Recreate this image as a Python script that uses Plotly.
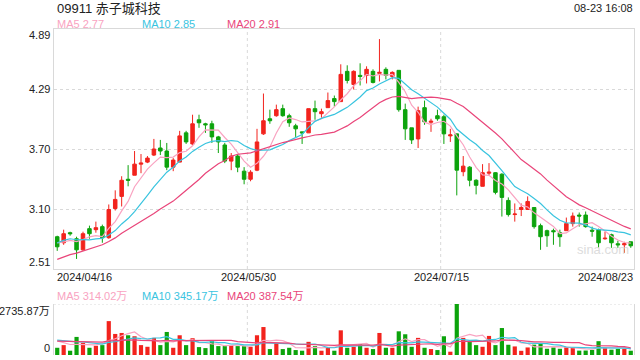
import plotly.graph_objects as go
import pandas as pd

# ---------------- data ----------------
dates = [
    "2024-04-16", "2024-04-17", "2024-04-18", "2024-04-19", "2024-04-22", "2024-04-23", "2024-04-24",
    "2024-04-25", "2024-04-26", "2024-04-29", "2024-04-30",
    "2024-05-02", "2024-05-03", "2024-05-06", "2024-05-07", "2024-05-08", "2024-05-09", "2024-05-10",
    "2024-05-13", "2024-05-14", "2024-05-16", "2024-05-17", "2024-05-20", "2024-05-21", "2024-05-22",
    "2024-05-23", "2024-05-24", "2024-05-27", "2024-05-28", "2024-05-29", "2024-05-30", "2024-05-31",
    "2024-06-03", "2024-06-04", "2024-06-05", "2024-06-06", "2024-06-07", "2024-06-11", "2024-06-12",
    "2024-06-13", "2024-06-14", "2024-06-17", "2024-06-18", "2024-06-19", "2024-06-20", "2024-06-21",
    "2024-06-24", "2024-06-25", "2024-06-26", "2024-06-27", "2024-06-28",
    "2024-07-02", "2024-07-03", "2024-07-04", "2024-07-05", "2024-07-08", "2024-07-09", "2024-07-10",
    "2024-07-11", "2024-07-12", "2024-07-15", "2024-07-16", "2024-07-17", "2024-07-18", "2024-07-19",
    "2024-07-22", "2024-07-23", "2024-07-24", "2024-07-25", "2024-07-26", "2024-07-29", "2024-07-30",
    "2024-07-31",
    "2024-08-01", "2024-08-02", "2024-08-05", "2024-08-06", "2024-08-07", "2024-08-08", "2024-08-09",
    "2024-08-12", "2024-08-13", "2024-08-14", "2024-08-15", "2024-08-16", "2024-08-19", "2024-08-20",
    "2024-08-21", "2024-08-22", "2024-08-23",
]

opens = [2.83, 2.77, 2.87, 2.81, 2.70, 2.91, 2.90, 2.93, 2.82, 3.11,
         3.23, 3.40, 3.44, 3.55, 3.57, 3.64, 3.71, 3.68, 3.52, 3.57,
         3.86, 3.75, 3.99, 3.95, 3.95, 3.82, 3.74, 3.58, 3.63, 3.48,
         3.40, 3.49, 3.85, 4.00, 4.03, 4.10, 4.03, 3.93, 3.87, 3.86,
         4.10, 4.05, 4.11, 4.20, 4.17, 4.47, 4.34, 4.43, 4.43, 4.47,
         4.45, 4.49, 4.42, 4.48, 4.09, 3.91, 3.80, 4.11, 3.965, 4.03,
         4.02, 3.83, 3.85, 3.475, 3.52, 3.39, 3.33, 3.46, 3.465, 3.45,
         3.19, 3.05, 3.10, 3.10, 3.12, 2.94, 2.89, 2.89, 2.87, 2.89,
         2.96, 3.045, 3.045, 2.895, 2.90, 2.81, 2.85, 2.76, 2.75, 2.78]
highs = [2.84, 2.90, 2.88, 2.83, 2.88, 2.94, 2.98, 2.95, 3.15, 3.29,
         3.43, 3.54, 3.68, 3.65, 3.63, 3.80, 3.79, 3.76, 3.61, 3.88,
         3.88, 4.04, 4.04, 3.96, 3.98, 3.83, 3.76, 3.66, 3.65, 3.52,
         3.49, 3.90, 4.25, 4.09, 4.14, 4.14, 4.05, 3.95, 3.87, 4.10,
         4.18, 4.10, 4.26, 4.23, 4.54, 4.53, 4.48, 4.55, 4.52, 4.49,
         4.79, 4.51, 4.47, 4.48, 4.15, 3.91, 4.12, 4.18, 4.00, 4.09,
         4.04, 3.90, 3.85, 3.63, 3.53, 3.40, 3.55, 3.56, 3.47, 3.46,
         3.22, 3.16, 3.16, 3.23, 3.12, 2.96, 2.90, 2.91, 2.90, 3.02,
         3.07, 3.07, 3.08, 2.93, 2.91, 2.88, 2.86, 2.79, 2.78, 2.78]
lows = [2.69, 2.75, 2.84, 2.61, 2.69, 2.81, 2.87, 2.77, 2.81, 3.09,
        3.13, 3.33, 3.44, 3.46, 3.56, 3.63, 3.64, 3.49, 3.48, 3.57,
        3.75, 3.74, 3.91, 3.86, 3.76, 3.66, 3.56, 3.49, 3.47, 3.35,
        3.38, 3.48, 3.84, 3.95, 4.02, 4.02, 3.92, 3.82, 3.75, 3.86,
        3.99, 4.01, 4.11, 4.12, 4.17, 4.35, 4.29, 4.33, 4.35, 4.35,
        4.37, 4.39, 4.39, 4.07, 3.79, 3.75, 3.71, 3.94, 3.87, 3.98,
        3.75, 3.77, 3.24, 3.43, 3.33, 3.25, 3.33, 3.44, 3.25, 3.03,
        3.03, 2.98, 3.035, 3.10, 2.91, 2.70, 2.73, 2.75, 2.73, 2.89,
        2.93, 2.93, 2.92, 2.83, 2.72, 2.80, 2.72, 2.72, 2.67, 2.72]
closes = [2.73, 2.86, 2.86, 2.70, 2.86, 2.86, 2.92, 2.82, 3.10, 3.20,
          3.39, 3.39, 3.55, 3.56, 3.61, 3.70, 3.68, 3.52, 3.59, 3.83,
          3.77, 3.95, 3.96, 3.94, 3.82, 3.77, 3.58, 3.63, 3.52, 3.40,
          3.47, 3.77, 3.98, 3.98, 4.09, 4.03, 3.96, 3.90, 3.86, 4.10,
          4.07, 4.07, 4.18, 4.17, 4.44, 4.38, 4.47, 4.42, 4.49, 4.36,
          4.46, 4.43, 4.46, 4.09, 3.90, 3.79, 4.08, 3.97, 3.975, 4.00,
          3.85, 3.84, 3.49, 3.53, 3.39, 3.34, 3.465, 3.47, 3.27, 3.22,
          3.05, 3.055, 3.12, 3.18, 2.93, 2.83, 2.84, 2.88, 2.83, 2.96,
          3.035, 3.035, 2.93, 2.885, 2.77, 2.815, 2.77, 2.75, 2.76, 2.74]
# volume, unit: 万 shares
volumes = [388, 530, 230, 970, 653, 388, 494, 530, 1818, 1130,
           1183, 1059, 1006, 530, 441, 918, 530, 1236, 388, 1059,
           530, 900, 424, 371, 741, 477, 477, 530, 477, 477,
           441, 1059, 1500, 318, 653, 318, 388, 265, 230, 706,
           477, 230, 388, 230, 1324, 388, 441, 582, 388, 318,
           1183, 388, 388, 1271, 1112, 441, 918, 388, 318, 265,
           1006, 177, 2735.87, 918, 706, 530, 441, 1024, 530, 1447,
           550, 460, 225, 405, 555, 610, 335, 405, 335, 419.1,
           395, 235, 240, 270, 741.6, 395, 285, 325, 335, 230.1]

# sessions before 2024-04-16 (only used to warm up the moving averages)
prior_closes = [2.40, 2.38, 2.42, 2.45, 2.43, 2.46, 2.44, 2.47, 2.48, 2.49,
                2.62, 2.70, 2.80, 2.85, 2.88, 2.82, 2.78, 2.76, 2.76]
prior_volumes = [600, 720, 540, 680, 810, 650, 700, 590, 860, 700,
                 900, 760, 1020, 680, 790, 980, 760, 920, 752]

date_labels = ["2024/04/16", "2024/05/30", "2024/07/15", "2024/08/23"]
price_ticks = [2.51, 3.10, 3.70, 4.29, 4.89]
vol_max = 2735.87

# ---------------- derived ----------------
n_prior = len(prior_closes)
cs = pd.Series(prior_closes + closes)
vs = pd.Series(prior_volumes + volumes)
ma = {w: cs.rolling(w).mean().iloc[n_prior:].tolist() for w in (5, 10, 20)}
vma = {w: vs.rolling(w).mean().iloc[n_prior:].tolist() for w in (5, 10, 20)}

RED = "#f2231d"
GREEN = "#0ca30c"
C5, C10, C20 = "#f9a3c1", "#39c4df", "#e9457a"
GRID = "#d9d9d9"
FONT = "Liberation Sans, Arial, Noto Sans CJK SC, sans-serif"

x = list(range(len(dates)))
vol_colors = [RED if c >= o else GREEN for o, c in zip(opens, closes)]

fig = go.Figure()
fig.add_trace(go.Candlestick(
    x=x, open=opens, high=highs, low=lows, close=closes, text=dates,
    increasing=dict(line=dict(color=RED, width=1), fillcolor=RED),
    decreasing=dict(line=dict(color=GREEN, width=1), fillcolor=GREEN),
    whiskerwidth=0, xaxis="x", yaxis="y", name="K"))
for w, col in ((5, C5), (10, C10), (20, C20)):
    fig.add_trace(go.Scatter(x=x, y=ma[w], mode="lines", line=dict(color=col, width=1.2),
                             xaxis="x", yaxis="y", name=f"MA{w}"))
fig.add_trace(go.Bar(x=x, y=volumes, marker=dict(color=vol_colors, line=dict(width=0)),
                     xaxis="x2", yaxis="y2", name="VOL"))
for w, col in ((5, C5), (10, C10), (20, C20)):
    fig.add_trace(go.Scatter(x=x, y=vma[w], mode="lines", line=dict(color=col, width=1.2),
                             xaxis="x2", yaxis="y2", name=f"VMA{w}"))

L, R = 54, 634
PT, PB = 29, 269
VT, VB = 304, 355
W, H = 640, 360


def px(xp):
    return xp / W


def py(yp):
    return 1 - yp / H


xr = [-0.5, len(dates) - 0.5]
fig.update_layout(
    width=W, height=H, margin=dict(l=0, r=0, t=0, b=0),
    paper_bgcolor="white", plot_bgcolor="white", showlegend=False,
    bargap=0.35, boxgap=0.22,
    font=dict(family=FONT, size=11, color="#333333"),
    xaxis=dict(domain=[px(L), px(R)], range=xr, anchor="y", showgrid=False, showticklabels=False,
               showline=True, mirror=True, linecolor=GRID, zeroline=False, ticks="",
               rangeslider=dict(visible=False)),
    yaxis=dict(domain=[py(PB), py(PT)], range=[2.51, 4.89], anchor="x",
               tickvals=[2.51 + 0.595 * k for k in (1, 2, 3)], showticklabels=False,
               showgrid=True, gridcolor=GRID, griddash="3px,3px", gridwidth=1,
               showline=True, mirror=True, linecolor=GRID, zeroline=False, ticks=""),
    xaxis2=dict(domain=[px(L), px(R)], range=xr, anchor="y2", showgrid=False, showticklabels=False,
                showline=False, zeroline=False, ticks=""),
    yaxis2=dict(domain=[py(VB), py(VT)], range=[0, vol_max], anchor="x2", showgrid=False,
                showticklabels=False, showline=True, mirror=True, linecolor=GRID,
                zeroline=False, ticks=""),
)

shapes = []
for f in (1 / 3, 2 / 3):
    shapes.append(dict(type="line", xref="x domain", yref="y domain", x0=f, x1=f, y0=0, y1=1,
                       line=dict(color=GRID, width=1, dash="3px,3px"), layer="below"))
    shapes.append(dict(type="line", xref="x2 domain", yref="y2 domain", x0=f, x1=f, y0=0, y1=1,
                       line=dict(color=GRID, width=1, dash="3px,3px"), layer="below"))
shapes.append(dict(type="line", xref="x2 domain", yref="y2", x0=0, x1=1, y0=vol_max, y1=vol_max,
                   line=dict(color=GRID, width=1, dash="2px,2px"), layer="below"))
fig.update_layout(shapes=shapes)

ann = []


def text(t, xp, yp, xa="left", size=11, color="#333333"):
    ann.append(dict(text=t, x=px(xp), y=py(yp), xref="paper", yref="paper", xanchor=xa,
                    yanchor="middle", showarrow=False, font=dict(size=size, color=color, family=FONT)))


text("09911 赤子城科技", 55, 8, size=13, color="#222222")
text("08-23 16:08", 635, 8, xa="right", size=11, color="#222222")
text(f"MA5 {ma[5][-1]:.2f}", 55, 24, color=C5)
text(f"MA10 {ma[10][-1]:.2f}", 140, 24, color=C10)
text(f"MA20 {ma[20][-1]:.2f}", 225, 24, color=C20)

price_label_y = [262, 209, 149, 89, 35]
for v, yy in zip(price_ticks, price_label_y):
    text(f"{v:.2f}", 52, yy, xa="right", color="#222222")

date_x = [(55, "left"), (248, "center"), (441, "center"), (635, "right")]
for lab, (xx, xa) in zip(date_labels, date_x):
    text(lab, xx, 277, xa=xa, color="#222222")

text(f"MA5 {vma[5][-1]:.2f}万", 55, 296, color=C5)
text(f"MA10 {vma[10][-1]:.2f}万", 140, 296, color=C10)
text(f"MA20 {vma[20][-1]:.2f}万", 225, 296, color=C20)
text(f"{vol_max:.2f}万", 52, 311, xa="right", color="#222222")
text("0", 52, 348, xa="right", color="#222222")
text("sina.com", 603, 249, xa="center", size=13, color="#dcdcdc")
fig.update_layout(annotations=ann)

fig.write_html("out.html")
